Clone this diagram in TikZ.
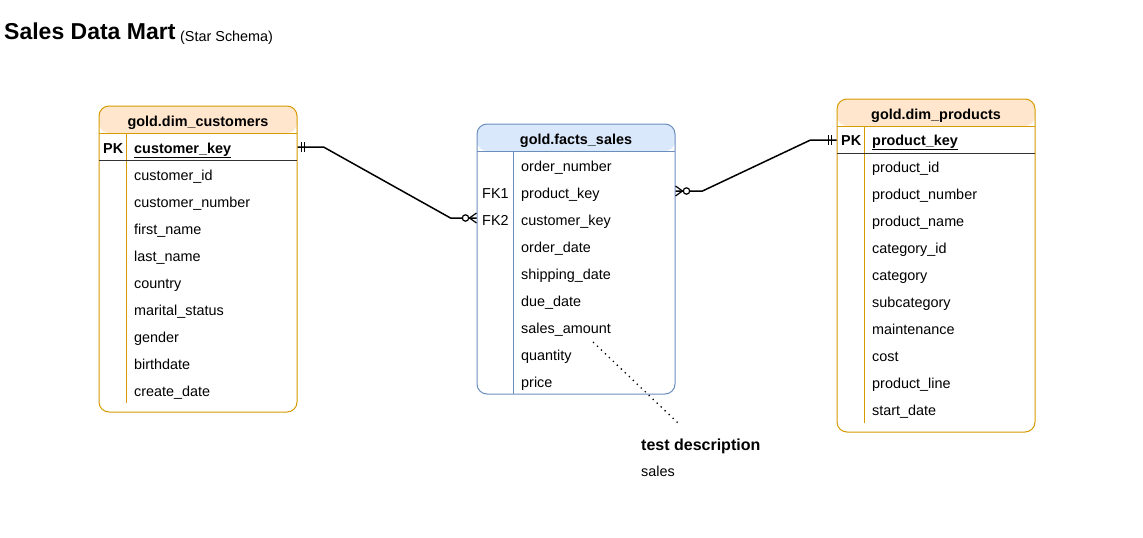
\documentclass[tikz,border=0pt]{standalone}
\usepackage{fontspec}
\setmainfont{Liberation Sans}
\usetikzlibrary{calc}
\definecolor{orFill}{HTML}{FFE6CC}
\definecolor{orLine}{HTML}{D79B00}
\definecolor{blFill}{HTML}{DAE8FC}
\definecolor{blLine}{HTML}{6C8EBF}
\definecolor{sepLine}{HTML}{333333}

\tikzset{
  tbl/.style={rectangle, rounded corners=10pt, line width=1pt, inner sep=0pt},
  hdrfill/.style 2 args={path picture={\fill[#1] (path picture bounding box.north west)
      rectangle ([yshift=-#2]path picture bounding box.north east);}},
  hdr/.style={font=\fontsize{14.4}{17}\selectfont\bfseries, inner sep=0pt,
    text height=10pt, text depth=0pt},
  cell/.style={anchor=west, inner sep=0pt, text height=10pt, text depth=0pt,
    font=\fontsize{14.4}{17}\selectfont},
  pkcell/.style={cell, font=\fontsize{14.4}{17}\selectfont\bfseries},
  link/.style={line width=1.5pt, black},
  note/.style={line width=1.3pt, dash pattern=on 1.3pt off 4.2pt},
}

\begin{document}
\begin{tikzpicture}[x=1pt, y=-1pt]
\useasboundingbox[fill=white] (0,0) rectangle (1143,538);

% title
\node[anchor=base west, inner sep=0pt, font=\fontsize{23}{27}\selectfont\bfseries] (title) at (4,39) {Sales Data Mart};
\node[anchor=base west, inner sep=0pt, font=\fontsize{14.4}{17}\selectfont] (subtitle) at (180,41) {(Star Schema)};

% ---------- gold.dim_customers ----------
\node[tbl, draw=orLine, hdrfill={orFill}{27pt}, minimum width=198pt, minimum height=306pt] (cust) at (198,259) {};
\node[hdr] (custT) at (198,121) {gold.dim\_customers};
\draw[orLine, line width=1pt] (99,133) -- (297,133);
\draw[orLine, line width=1pt] (126,133) -- (126,403);
\draw[sepLine, line width=1pt] (99,160) -- (297,160);
\node[pkcell] (cPK) at (103,148) {PK};
\node[pkcell] (c0) at (134,148) {\underline{customer\_key}};
\foreach \t [count=\i] in {customer\_id, customer\_number, first\_name, last\_name, country,
    marital\_status, gender, birthdate, create\_date}
  \node[cell] (c\i) at (134,148+27*\i) {\t};

% ---------- gold.facts_sales ----------
\node[tbl, draw=blLine, hdrfill={blFill}{27pt}, minimum width=198pt, minimum height=270pt] (fact) at (576,259) {};
\node[hdr] (factT) at (576,139.5) {gold.facts\_sales};
\draw[blLine, line width=1pt] (477,151) -- (675,151);
\draw[blLine, line width=1pt] (513,151) -- (513,394);
\node[cell] (fFK1) at (482,193) {FK1};
\node[cell] (fFK2) at (482,220) {FK2};
\foreach \t [count=\i from 0] in {order\_number, product\_key, customer\_key, order\_date,
    shipping\_date, due\_date, sales\_amount, quantity, price}
  \node[cell] (f\i) at (521,166+27*\i) {\t};

% ---------- gold.dim_products ----------
\node[tbl, draw=orLine, hdrfill={orFill}{27pt}, minimum width=198pt, minimum height=333pt] (prod) at (936,265.5) {};
\node[hdr] (prodT) at (936,114) {gold.dim\_products};
\draw[orLine, line width=1pt] (837,126) -- (1035,126);
\draw[orLine, line width=1pt] (864,126) -- (864,423);
\draw[sepLine, line width=1pt] (837,153) -- (1035,153);
\node[pkcell] (pPK) at (841,140) {PK};
\node[pkcell] (p0) at (872,140) {\underline{product\_key}};
\foreach \t [count=\i] in {product\_id, product\_number, product\_name, category\_id, category,
    subcategory, maintenance, cost, product\_line, start\_date}
  \node[cell] (p\i) at (872,140+27*\i) {\t};

% ---------- relationships ----------
% customers (one) -> facts (zero or many)
\coordinate (cA) at ($(cust.east |- c0.west)+(0,-1)$);
\coordinate (cB) at ($(fact.west |- fFK2.west)+(0,-2)$);
\draw[link] (cA) -- ++(26,0) -- ($(cB)+(-26,0)$) -- (cB);
\draw[link] ($(cA)+(4,-5)$) -- ++(0,10);
\draw[link] ($(cA)+(7,-5)$) -- ++(0,10);
\draw[link, fill=white, line width=1.2pt] ($(cB)+(-11,0)$) circle (3.2);
\draw[link, line width=1.2pt] ($(cB)+(0,-5)$) -- ($(cB)+(-7,0)$) -- ($(cB)+(0,5)$);

% products (one) -> facts (zero or many)
\coordinate (pA) at (prod.west |- p0.west);
\coordinate (pB) at ($(fact.east |- f1.west)+(0,-2)$);
\draw[link] (pB) -- ++(27,0) -- ($(pA)+(-26,0)$) -- (pA);
\draw[link] ($(pA)+(-5,-5)$) -- ++(0,10);
\draw[link] ($(pA)+(-8,-5)$) -- ++(0,10);
\draw[link, fill=white, line width=1.2pt] ($(pB)+(11,0)$) circle (3.2);
\draw[link, line width=1.2pt] ($(pB)+(0,-5)$) -- ($(pB)+(7,0)$) -- ($(pB)+(0,5)$);

% ---------- note ----------
\node[anchor=base west, inner sep=0pt, font=\fontsize{16}{19}\selectfont\bfseries] (desc) at (641,450) {test description};
\node[anchor=base west, inner sep=0pt, font=\fontsize{14.4}{17}\selectfont] (descTxt) at (641,476) {sales};
\coordinate (nA) at (593,342);
\coordinate (nB) at (678,423);
\draw[note] (nA) -- (nB);
\end{tikzpicture}
\end{document}
